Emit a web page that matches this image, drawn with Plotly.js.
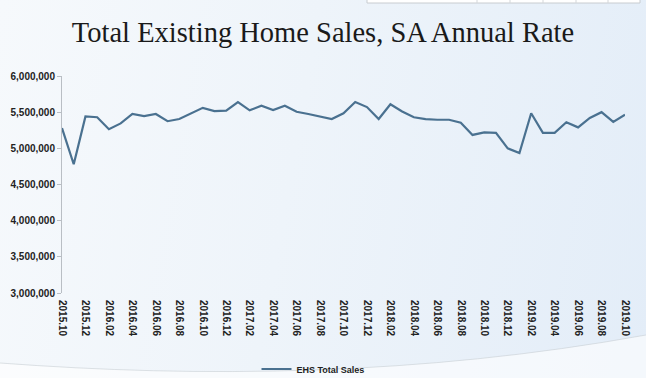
<!DOCTYPE html>
<html>
<head>
<meta charset="utf-8">
<script src="https://cdn.plot.ly/plotly-3.0.1.min.js"></script>
<style>
html,body{margin:0;padding:0;}
#chart{width:646px;height:378px;background:linear-gradient(100deg,#f6f9fc 0%,#eef4fa 45%,#e3edf8 100%);}
</style>
</head>
<body>
<div id="chart"></div>
<script>
// Monthly categories 2015.10 .. 2019.10
const months = [
 "2015.10","2015.11","2015.12",
 "2016.01","2016.02","2016.03","2016.04","2016.05","2016.06","2016.07","2016.08","2016.09","2016.10","2016.11","2016.12",
 "2017.01","2017.02","2017.03","2017.04","2017.05","2017.06","2017.07","2017.08","2017.09","2017.10","2017.11","2017.12",
 "2018.01","2018.02","2018.03","2018.04","2018.05","2018.06","2018.07","2018.08","2018.09","2018.10","2018.11","2018.12",
 "2019.01","2019.02","2019.03","2019.04","2019.05","2019.06","2019.07","2019.08","2019.09","2019.10"
];
const ehsTotalSales = [
 5280000,4780000,5440000,
 5430000,5265000,5345000,5475000,5445000,5475000,5375000,5405000,5480000,5560000,5515000,5520000,
 5640000,5525000,5590000,5530000,5590000,5505000,5475000,5445000,5405000,5485000,5640000,5570000,
 5405000,5610000,5510000,5430000,5405000,5395000,5395000,5355000,5185000,5220000,5215000,5000000,
 4935000,5485000,5215000,5215000,5360000,5290000,5420000,5500000,5365000,5465000
];
const tickLabels = months.filter((m, i) => i % 2 === 0);
const yTicks = [3000000,3500000,4000000,4500000,5000000,5500000,6000000];
const yTickText = yTicks.map(v => v.toLocaleString('en-US'));

const trace = {
  x: months,
  y: ehsTotalSales,
  type: 'scatter',
  mode: 'lines',
  name: 'EHS Total Sales',
  line: {color: '#4a7190', width: 2.2}
};

// helpers: pixel -> paper coords for decorations (plot area 62..625 x 76..293)
const px = x => (x - 62) / 563;
const py = y => (293 - y) / 217;

const layout = {
  width: 646, height: 378,
  margin: {l: 62, r: 21, t: 76, b: 85, autoexpand: false},
  paper_bgcolor: 'rgba(0,0,0,0)',
  plot_bgcolor: 'rgba(0,0,0,0)',
  title: {
    text: 'Total Existing Home Sales, SA Annual Rate',
    font: {family: 'Liberation Serif, Times New Roman, serif', size: 28.5, color: '#1a1a1a'},
    x: 0.5, xanchor: 'center', xref: 'container', y: 0.915, yanchor: 'middle'
  },
  xaxis: {
    type: 'category',
    range: [0, 48],
    tickmode: 'array',
    tickvals: tickLabels,
    ticktext: tickLabels,
    tickangle: 90,
    ticklabelstandoff: 6,
    showline: false, showgrid: false, zeroline: false,
    ticks: '',
    tickfont: {family: 'Liberation Sans, Arial, sans-serif', size: 10, color: '#222', weight: 'bold'},
    fixedrange: true
  },
  yaxis: {
    range: [3000000, 6000000],
    tickmode: 'array',
    tickvals: yTicks,
    ticktext: yTickText,
    showline: true, linecolor: '#b9bec4', linewidth: 1,
    ticks: 'outside', ticklen: 4, tickcolor: '#b9bec4',
    showgrid: false, zeroline: false,
    tickfont: {family: 'Liberation Sans, Arial, sans-serif', size: 10, color: '#222', weight: 'bold'},
    fixedrange: true
  },
  showlegend: true,
  legend: {
    orientation: 'h',
    x: 0.5 - 10/646, xanchor: 'center', xref: 'container',
    y: 1 - 369/378, yanchor: 'middle', yref: 'container',
    bgcolor: 'rgba(0,0,0,0)',
    font: {family: 'Liberation Sans, Arial, sans-serif', size: 9, color: '#222', weight: 'bold'}
  },
  shapes: [
    {type: 'path', xref: 'paper', yref: 'paper',
     path: `M ${px(0)} ${py(363)} C ${px(200)} ${py(378)} ${px(420)} ${py(376)} ${px(646)} ${py(335)} L ${px(646)} ${py(378)} L ${px(0)} ${py(378)} Z`,
     fillcolor: 'rgba(255,255,255,0.6)', line: {width: 0}, layer: 'below'},
    {type: 'path', xref: 'paper', yref: 'paper',
     path: `M ${px(0)} ${py(363)} C ${px(200)} ${py(378)} ${px(420)} ${py(376)} ${px(646)} ${py(335)}`,
     line: {color: 'rgba(200,206,212,0.6)', width: 1}, layer: 'below'},
    {type: 'rect', xref: 'paper', yref: 'paper',
     x0: px(367), x1: px(640), y0: py(3), y1: py(-5),
     fillcolor: '#ffffff', line: {color: '#c8ccd0', width: 1}}
  ].concat([477,510,543,576,608].map(v => ({
     type: 'line', xref: 'paper', yref: 'paper',
     x0: px(v), x1: px(v), y0: py(3), y1: py(-5),
     line: {color: '#d4d7da', width: 1}
  })))
};

Plotly.newPlot('chart', [trace], layout, {displayModeBar: false, staticPlot: true});
</script>
</body>
</html>
